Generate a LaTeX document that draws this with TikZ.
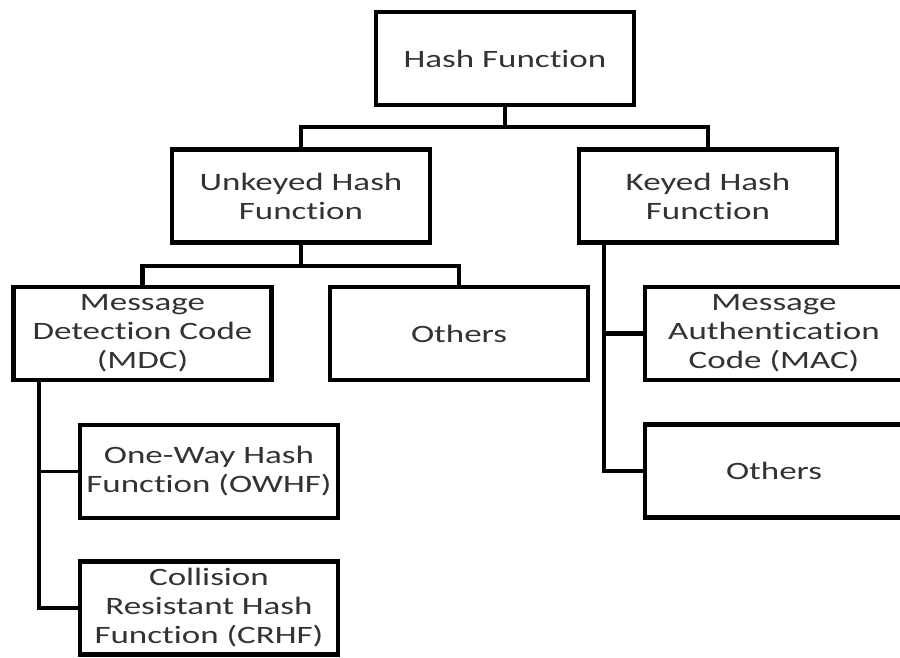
\documentclass[tikz,border=0pt]{standalone}
\usepackage{fontspec}
\setmainfont[FakeStretch=1.40,Ligatures={NoCommon}]{Carlito}
\begin{document}
\begin{tikzpicture}[x=1pt,y=-1pt,
  box/.style={draw=black,line width=4.5pt,fill=white,minimum width=258pt,minimum height=93pt,
    inner sep=0pt,align=center,text=black!80,font=\fontsize{25}{29}\selectfont},
  conn/.style={line width=4.5pt,draw=black},
  thinconn/.style={line width=2.5pt,draw=black}]
\useasboundingbox (0,0) rectangle (900,658);
\clip (0,0) rectangle (900,658);
\fill[white] (0,0) rectangle (900,658);
% nodes
\node[box] (hash) at (505,58.5) {Hash Function};
\node[box] (unk) at (301,196) {Unkeyed Hash\\Function};
\node[box] (key) at (708,196) {Keyed Hash\\Function};
\node[box] (mdc) at (142.5,333.5) {Message\\Detection Code\\(MDC)};
\node[box] (oth1) at (459,333.5) {Others};
\node[box] (owhf) at (209,471.5) {One-Way Hash\\Function (OWHF)};
\node[box] (crhf) at (209,608) {Collision\\Resistant Hash\\Function (CRHF)};
\node[box] (mac) at (774,333.5) {Message\\Authentication\\Code (MAC)};
\node[box] (oth2) at (774,471) {Others};
% coordinates
\coordinate (bar1) at (505,127);
\coordinate (bar2) at (301,266);
\coordinate (mv) at (39,382);
\coordinate (mo) at (39,471.5);
\coordinate (kv) at (604,245);
\coordinate (km) at (604,333.5);
% connectors
\draw[conn] (hash.south) -- (bar1);
\draw[conn] (unk.north) |- (bar1) -| (key.north);
\draw[conn] (unk.south) -- (bar2);
\draw[conn] (mdc.north) |- (bar2) -| (oth1.north);
\draw[conn] (mv) |- (crhf.west);
\draw[thinconn] (mo) -- (owhf.west);
\draw[conn] (kv) |- (oth2.west);
\draw[conn] (km) -- (mac.west);
\end{tikzpicture}
\end{document}
